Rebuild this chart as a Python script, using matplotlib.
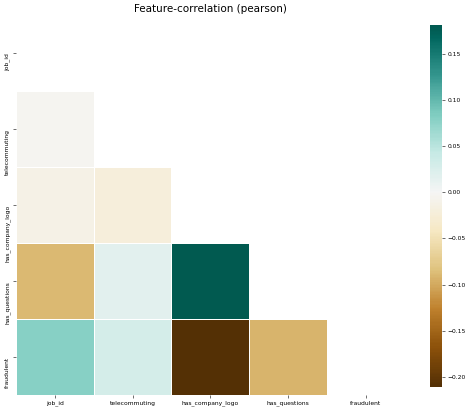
# Feature-correlation heatmap (lower triangle), BrBG centred at zero.

import numpy as np
import matplotlib
matplotlib.use("Agg")
import matplotlib.pyplot as plt
import seaborn as sns

# Data
features = ["job_id", "telecommuting", "has_company_logo", "has_questions", "fraudulent"]
corr_telecommuting = [-0.004]
corr_has_company_logo = [-0.012, -0.022]
corr_has_questions = [-0.090, 0.018, 0.181]
corr_fraudulent = [0.079, 0.030, -0.211, -0.093]

lower_rows = [[], corr_telecommuting, corr_has_company_logo, corr_has_questions, corr_fraudulent]


def build_matrix():
    n = len(features)
    m = np.eye(n)
    for i, row in enumerate(lower_rows):
        for j, v in enumerate(row):
            m[i, j] = v
            m[j, i] = v
    return m


def main():
    corr = build_matrix()
    mask = np.triu(np.ones_like(corr, dtype=bool))

    fig = plt.figure(figsize=(4.68, 4.11), dpi=100)
    ax = fig.add_axes([0.034, 0.039, 0.831, 0.924])
    cax = fig.add_axes([0.919, 0.058, 0.0256, 0.881])

    sns.heatmap(corr, mask=mask, cmap="BrBG", center=0, linewidths=0.7,
                linecolor="white", xticklabels=features, yticklabels=features,
                ax=ax, cbar_ax=cax)

    fig.text(0.449, 1 - 9 / 411, "Feature-correlation (pearson)", fontsize=7.5,
             ha="center", va="center")
    ax.tick_params(axis="both", labelsize=4.3, length=2, width=0.4, pad=2)
    plt.setp(ax.get_yticklabels(), rotation=90, va="top")
    plt.setp(ax.get_xticklabels(), rotation=0)

    cax.tick_params(labelsize=4.3, length=2, width=0.4, pad=2)
    cax.set_yticks([0.15, 0.10, 0.05, 0.0, -0.05, -0.10, -0.15, -0.20])

    fig.savefig("out.png", dpi=100)


if __name__ == "__main__":
    main()
